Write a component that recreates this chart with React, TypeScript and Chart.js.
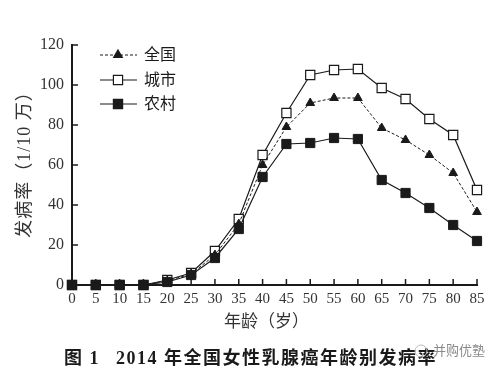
import React, { useEffect, useRef } from "react";
import { Chart, registerables } from "chart.js";

Chart.register(...registerables);

const ages = [0, 5, 10, 15, 20, 25, 30, 35, 40, 45, 50, 55, 60, 65, 70, 75, 80, 85];
const national = [0, 0, 0, 0, 2, 5.5, 15, 30.5, 60, 79, 91, 93.5, 93.5, 78.5, 72.5, 65, 56, 36.5];
const urban = [0, 0, 0, 0, 2.5, 6, 17, 33, 65, 86, 105, 107.5, 108, 98.5, 93, 83, 75, 47.5];
const rural = [0, 0, 0, 0, 1.5, 5, 13.5, 28, 54, 70.5, 71, 73.5, 73, 52.5, 46, 38.5, 30, 22];
const seriesNames = ["全国", "城市", "农村"];
const yTitle = "发病率（1/10 万）";
const xTitle = "年龄（岁）";
const captionFig = "图 1";
const captionText = "2014 年全国女性乳腺癌年龄别发病率";
const watermark = "并购优塾";

const SERIF = "'Liberation Serif', 'DejaVu Serif', 'Noto Sans CJK SC', serif";
const CJK = "'Liberation Serif', 'Noto Sans CJK SC', sans-serif";
const INK = "#1a1a1a";

function drawMarker(ctx: CanvasRenderingContext2D, style: string, x: number, y: number, r: number, fill: string) {
  ctx.save();
  ctx.fillStyle = fill;
  ctx.strokeStyle = INK;
  ctx.lineWidth = 1.2;
  ctx.setLineDash([]);
  ctx.beginPath();
  if (style === "triangle") {
    ctx.moveTo(x, y - r);
    ctx.lineTo(x + r * 0.866, y + r * 0.5);
    ctx.lineTo(x - r * 0.866, y + r * 0.5);
    ctx.closePath();
  } else {
    const s = r * Math.SQRT1_2;
    ctx.rect(x - s, y - s, 2 * s, 2 * s);
  }
  ctx.fill();
  ctx.stroke();
  ctx.restore();
}

const decorPlugin = {
  id: "decor",
  afterDatasetsDraw(chart: any) {
    const ctx: CanvasRenderingContext2D = chart.ctx;
    const xs = chart.scales.x;
    const ys = chart.scales.y;
    const area = chart.chartArea;
    ctx.save();
    ctx.strokeStyle = INK;
    ctx.lineWidth = 1.5;
    ctx.setLineDash([]);
    // inward ticks
    ys.ticks.forEach((t: any) => {
      const py = ys.getPixelForValue(t.value);
      ctx.beginPath();
      ctx.moveTo(area.left, py);
      ctx.lineTo(area.left + 6, py);
      ctx.stroke();
    });
    xs.ticks.forEach((t: any) => {
      const px = xs.getPixelForValue(t.value);
      ctx.beginPath();
      ctx.moveTo(px, area.bottom);
      ctx.lineTo(px, area.bottom - 6);
      ctx.stroke();
    });

    // legend
    const legendY = [55, 80, 104];
    chart.data.datasets.forEach((ds: any, i: number) => {
      const y = legendY[i];
      ctx.save();
      ctx.strokeStyle = INK;
      ctx.lineWidth = ds.borderWidth;
      ctx.setLineDash(ds.borderDash || []);
      ctx.beginPath();
      ctx.moveTo(100, y);
      ctx.lineTo(137, y);
      ctx.stroke();
      ctx.restore();
      drawMarker(ctx, ds.pointStyle, 118, y, ds.pointRadius, ds.pointBackgroundColor);
      ctx.fillStyle = INK;
      ctx.font = `16px ${CJK}`;
      ctx.textAlign = "left";
      ctx.textBaseline = "middle";
      ctx.fillText(ds.label, 144, y + 1);
    });

    // axis titles
    ctx.fillStyle = "#333";
    ctx.font = `17px ${CJK}`;
    ctx.textAlign = "center";
    ctx.textBaseline = "middle";
    ctx.fillText(xTitle, (area.left + area.right) / 2 - 8, 323);
    ctx.save();
    ctx.translate(25, 160);
    ctx.rotate(-Math.PI / 2);
    (ctx as any).letterSpacing = "1px";
    ctx.font = `18px ${CJK}`;
    ctx.fillText(yTitle, 0, 0);
    ctx.restore();

    // caption
    ctx.fillStyle = INK;
    ctx.textAlign = "left";
    ctx.font = `bold 18px ${CJK}`;
    (ctx as any).letterSpacing = "1.5px";
    ctx.fillText(captionFig, 64, 359);
    ctx.fillText(captionText, 116, 359);
    (ctx as any).letterSpacing = "0px";

    // watermark
    ctx.fillStyle = "#8a8a8a";
    ctx.font = `13px 'Noto Sans CJK SC', sans-serif`;
    ctx.fillText(watermark, 433, 350);
    ctx.strokeStyle = "#bbb";
    ctx.lineWidth = 1;
    ctx.beginPath();
    ctx.arc(421, 351, 6, 0, Math.PI * 2);
    ctx.stroke();
    ctx.restore();
  },
};

export default function App() {
  const ref = useRef<HTMLCanvasElement | null>(null);
  useEffect(() => {
    if (!ref.current) return;
    const mk = (arr: number[]) => ages.map((a, i) => ({ x: a, y: arr[i] }));
    const chart = new Chart(ref.current, {
      type: "line",
      data: {
        datasets: [
          {
            label: seriesNames[0],
            data: mk(national),
            borderColor: INK,
            borderWidth: 1,
            borderDash: [3, 2],
            pointStyle: "triangle",
            pointRadius: 5,
            pointBackgroundColor: INK,
            pointBorderColor: INK,
            pointBorderWidth: 1,
            clip: false,
            order: 1,
          },
          {
            label: seriesNames[1],
            data: mk(urban),
            borderColor: INK,
            borderWidth: 1.2,
            pointStyle: "rect",
            pointRadius: 6.5,
            pointBackgroundColor: "#ffffff",
            pointBorderColor: INK,
            pointBorderWidth: 1.2,
            clip: false,
            order: 2,
          },
          {
            label: seriesNames[2],
            data: mk(rural),
            borderColor: INK,
            borderWidth: 1.2,
            pointStyle: "rect",
            pointRadius: 6.5,
            pointBackgroundColor: INK,
            pointBorderColor: INK,
            pointBorderWidth: 1,
            clip: false,
            order: 0,
          },
        ] as any,
      },
      options: {
        responsive: false,
        animation: false,
        layout: { padding: { top: 45, right: 15, left: 0, bottom: 0 } },
        plugins: { legend: { display: false }, tooltip: { enabled: false } },
        scales: {
          x: {
            type: "linear",
            min: 0,
            max: 85,
            ticks: { stepSize: 5, color: "#333", font: { family: SERIF, size: 15 }, padding: 5, maxRotation: 0, autoSkip: false },
            grid: { display: true, drawOnChartArea: false, drawTicks: false },
            border: { display: true, color: INK, width: 2 },
            afterFit: (s: any) => { s.height = 100; },
          },
          y: {
            min: 0,
            max: 120,
            ticks: { stepSize: 20, color: "#333", font: { family: SERIF, size: 16 }, padding: 8 },
            grid: { display: true, drawOnChartArea: false, drawTicks: false },
            border: { display: true, color: INK, width: 2 },
            afterFit: (s: any) => { s.width = 72; },
          },
        },
      } as any,
      plugins: [decorPlugin],
    });
    return () => chart.destroy();
  }, []);
  return (
    <div style={{ position: "fixed", left: 0, top: 0, width: 492, height: 385, background: "#fff" }}>
      <canvas ref={ref} width={492} height={385} style={{ width: 492, height: 385, display: "block" }} />
    </div>
  );
}
